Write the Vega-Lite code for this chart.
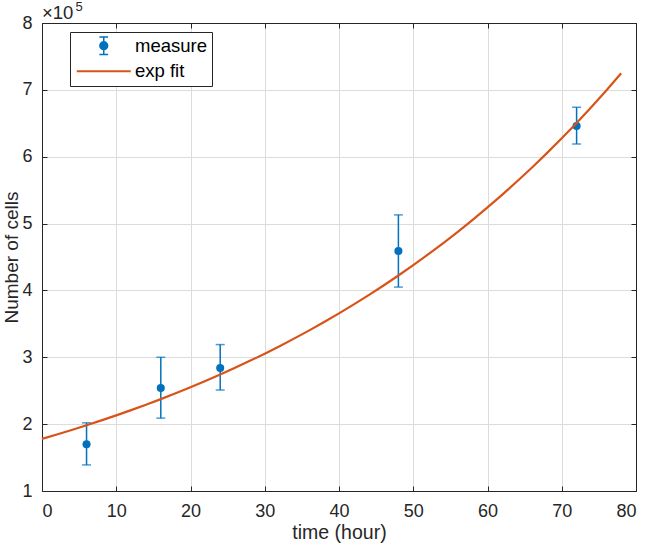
{
  "$schema": "https://vega.github.io/schema/vega-lite/v6.json",
  "width": 594,
  "height": 468,
  "autosize": {"type": "none"},
  "padding": {"left": 42, "top": 23, "right": 9, "bottom": 54},
  "background": "white",
  "title": {"text": "×10", "anchor": "start", "frame": "group", "fontSize": 18.5, "fontWeight": "normal", "color": "#262626", "offset": -22, "dx": 0, "font": "Liberation Sans"},
  "config": {
    "font": "Liberation Sans",
    "view": {"stroke": null},
    "axis": {
      "domainColor": "#262626", "domainWidth": 1, "tickColor": "#262626", "tickWidth": 1, "tickSize": -5,
      "labelFontSize": 18, "labelColor": "#262626", "labelFont": "Liberation Sans",
      "titleFontSize": 19.5, "titleFontWeight": "normal", "titleColor": "#262626", "titleFont": "Liberation Sans",
      "gridColor": "#dcdcdc", "gridWidth": 1
    }
  },
  "datasets": {
    "measure": [
      {"time": 6, "count": 170000, "lower": 139000, "upper": 202000},
      {"time": 16, "count": 254000, "lower": 209000, "upper": 300000},
      {"time": 24, "count": 284000, "lower": 251000, "upper": 319000},
      {"time": 48, "count": 459000, "lower": 405000, "upper": 513000},
      {"time": 72, "count": 646000, "lower": 619000, "upper": 674000}
    ],
    "fit": [
      {"time": 0, "fit": 178000}, {"time": 2, "fit": 184530}, {"time": 4, "fit": 191290},
      {"time": 6, "fit": 198300}, {"time": 8, "fit": 205570}, {"time": 10, "fit": 213100},
      {"time": 12, "fit": 220920}, {"time": 14, "fit": 229010}, {"time": 16, "fit": 237410},
      {"time": 18, "fit": 246110}, {"time": 20, "fit": 255130}, {"time": 22, "fit": 264480},
      {"time": 24, "fit": 274180}, {"time": 26, "fit": 284230}, {"time": 28, "fit": 294650},
      {"time": 30, "fit": 305450}, {"time": 32, "fit": 316650}, {"time": 34, "fit": 328260},
      {"time": 36, "fit": 340290}, {"time": 38, "fit": 352760}, {"time": 40, "fit": 365690},
      {"time": 42, "fit": 379090}, {"time": 44, "fit": 392990}, {"time": 46, "fit": 407400},
      {"time": 48, "fit": 422330}, {"time": 50, "fit": 437810}, {"time": 52, "fit": 453860},
      {"time": 54, "fit": 470500}, {"time": 56, "fit": 487740}, {"time": 58, "fit": 505620},
      {"time": 60, "fit": 524150}, {"time": 62, "fit": 543370}, {"time": 64, "fit": 563280},
      {"time": 66, "fit": 583930}, {"time": 68, "fit": 605340}, {"time": 70, "fit": 627520},
      {"time": 72, "fit": 650530}, {"time": 74, "fit": 674370}, {"time": 76, "fit": 699090},
      {"time": 78, "fit": 724720}
    ]
  },
  "resolve": {"axis": {"x": "independent", "y": "independent"}},
  "layer": [
    {
      "data": {"name": "measure"},
      "mark": {"type": "rule", "color": "#0072BD", "strokeWidth": 1.5},
      "encoding": {
        "x": {"field": "time", "type": "quantitative", "scale": {"domain": [0, 80], "nice": false},
          "axis": {"orient": "bottom", "values": [0, 10, 20, 30, 40, 50, 60, 70, 80], "grid": true, "title": "time (hour)", "labelPadding": 16, "titlePadding": 3}},
        "y": {"field": "lower", "type": "quantitative", "scale": {"domain": [100000, 800000], "nice": false, "zero": false},
          "axis": {"orient": "left", "values": [100000, 200000, 300000, 400000, 500000, 600000, 700000, 800000], "labelExpr": "datum.value / 100000", "grid": true, "title": "Number of cells", "titleFontSize": 19, "labelPadding": 15, "titlePadding": 0}},
        "y2": {"field": "upper"}
      }
    },
    {
      "data": {"name": "measure"},
      "mark": {"type": "tick", "color": "#0072BD", "orient": "horizontal", "size": 9, "thickness": 1.5},
      "encoding": {
        "x": {"field": "time", "type": "quantitative", "axis": null},
        "y": {"field": "lower", "type": "quantitative", "axis": null}
      }
    },
    {
      "data": {"name": "measure"},
      "mark": {"type": "tick", "color": "#0072BD", "orient": "horizontal", "size": 9, "thickness": 1.5},
      "encoding": {
        "x": {"field": "time", "type": "quantitative", "axis": null},
        "y": {"field": "upper", "type": "quantitative", "axis": null}
      }
    },
    {
      "data": {"name": "measure"},
      "mark": {"type": "point", "filled": true, "opacity": 1, "size": 65, "shape": "circle"},
      "encoding": {
        "x": {"field": "time", "type": "quantitative", "axis": null},
        "y": {"field": "count", "type": "quantitative", "axis": null},
        "color": {"datum": "measure", "type": "nominal",
          "scale": {"domain": ["measure", "exp fit"], "range": ["#0072BD", "#D95319"]},
          "legend": {
            "orient": "none", "legendX": 28, "legendY": 9, "title": null,
            "strokeColor": "#262626", "fillColor": "white", "padding": 4.5,
            "symbolOffset": 20, "labelOffset": 22, "rowPadding": 4.5,
            "symbolSize": 225, "symbolStrokeWidth": 2,
            "labelFontSize": 18.5, "labelColor": "#000000", "labelFont": "Liberation Sans",
            "encode": {"symbols": {"update": {
              "shape": {"signal": "datum.value == 'exp fit' ? 'stroke' : 'M0,-1V1M-0.5,-1H0.5M-0.5,1H0.5M-0.45,0A0.45,0.45,0,1,0,0.45,0A0.45,0.45,0,1,0,-0.45,0Z'"},
              "size": {"signal": "datum.value == 'exp fit' ? 2916 : 300"},
              "fill": {"signal": "datum.value == 'exp fit' ? 'transparent' : '#0072BD'"},
              "stroke": {"signal": "datum.value == 'exp fit' ? '#D95319' : '#0072BD'"},
              "strokeWidth": {"signal": "datum.value == 'exp fit' ? 2.2 : 1.5"},
              "opacity": {"value": 1}
            }}}
          }}
      }
    },
    {
      "data": {"name": "fit"},
      "mark": {"type": "line", "color": "#D95319", "strokeWidth": 2.2},
      "encoding": {
        "x": {"field": "time", "type": "quantitative",
          "axis": {"orient": "top", "values": [0, 10, 20, 30, 40, 50, 60, 70, 80], "labels": false, "grid": false,
            "title": "5", "titleFontSize": 13, "titleX": 33, "titleY": -13, "titleAlign": "left", "titleBaseline": "alphabetic", "titleAngle": 0}},
        "y": {"field": "fit", "type": "quantitative",
          "axis": {"orient": "right", "values": [100000, 200000, 300000, 400000, 500000, 600000, 700000, 800000], "labels": false, "grid": false, "title": null}},
        "color": {"datum": "exp fit", "type": "nominal",
          "legend": {
            "orient": "none", "legendX": 28, "legendY": 9, "title": null,
            "strokeColor": "#262626", "fillColor": "white", "padding": 4.5,
            "symbolOffset": 20, "labelOffset": 22, "rowPadding": 4.5,
            "symbolSize": 225, "symbolStrokeWidth": 2,
            "labelFontSize": 18.5, "labelColor": "#000000", "labelFont": "Liberation Sans",
            "encode": {"symbols": {"update": {
              "shape": {"signal": "datum.value == 'exp fit' ? 'stroke' : 'M0,-1V1M-0.5,-1H0.5M-0.5,1H0.5M-0.45,0A0.45,0.45,0,1,0,0.45,0A0.45,0.45,0,1,0,-0.45,0Z'"},
              "size": {"signal": "datum.value == 'exp fit' ? 2916 : 300"},
              "fill": {"signal": "datum.value == 'exp fit' ? 'transparent' : '#0072BD'"},
              "stroke": {"signal": "datum.value == 'exp fit' ? '#D95319' : '#0072BD'"},
              "strokeWidth": {"signal": "datum.value == 'exp fit' ? 2.2 : 1.5"},
              "opacity": {"value": 1}
            }}}
          }}
      }
    }
  ]
}
